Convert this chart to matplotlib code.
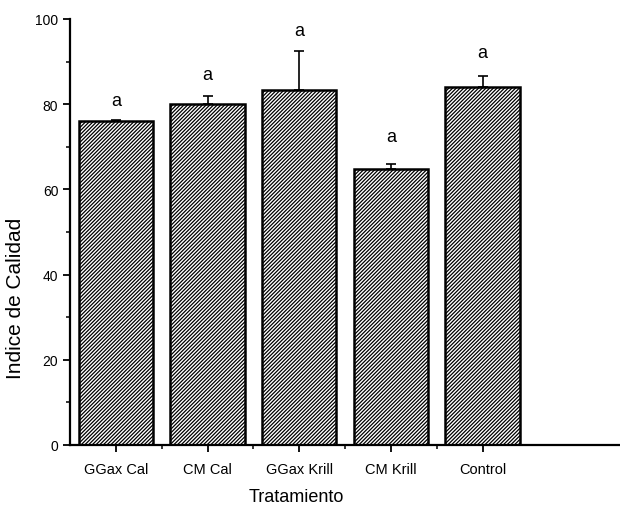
import matplotlib
matplotlib.use("Agg")
import matplotlib.pyplot as plt
from matplotlib.ticker import MultipleLocator, FixedLocator

plt.rcParams['font.family'] = ['Liberation Sans', 'DejaVu Sans']
plt.rcParams['hatch.linewidth'] = 0.9

categories = ["GGax Cal", "CM Cal", "GGax Krill", "CM Krill", "Control"]
values = [76.0, 80.0, 83.3, 64.8, 84.0]
errors = [0.3, 2.0, 9.2, 1.2, 2.7]
letters = ["a", "a", "a", "a", "a"]
letter_y = [80.8, 86.9, 97.2, 72.3, 92.2]

fig = plt.figure(figsize=(6.2, 5.1), dpi=100)
ax = fig.add_axes([0.113, 0.1255, 0.887, 0.8355])

x = list(range(len(categories)))
ax.bar(x, values, width=0.81, color='white', edgecolor='black', hatch='/////////',
       linewidth=1.8, zorder=2)
ax.errorbar(x, values, yerr=[[0]*len(errors), errors], fmt='none', ecolor='black',
            elinewidth=1.2, capsize=3.5, capthick=1.2, zorder=3)
for xi, ly, t in zip(x, letter_y, letters):
    ax.text(xi, ly, t, ha='center', va='center', fontsize=13)

ax.set_xlim(-0.5, 5.5)
ax.set_ylim(0, 100)
ax.set_xticks(x)
ax.set_xticklabels(categories, fontsize=10.5)
ax.xaxis.set_minor_locator(FixedLocator([0.5, 1.5, 2.5, 3.5]))
ax.yaxis.set_major_locator(MultipleLocator(20))
ax.yaxis.set_minor_locator(MultipleLocator(10))
ax.tick_params(axis='y', which='major', direction='out', length=5, width=1.3, labelsize=10)
ax.tick_params(axis='y', which='minor', direction='out', length=3, width=1.1)
ax.tick_params(axis='x', which='major', direction='out', length=5, width=1.3, pad=7)
ax.tick_params(axis='x', which='minor', direction='out', length=3, width=1.1)
for s in ['top', 'right']:
    ax.spines[s].set_visible(False)
for s in ['left', 'bottom']:
    ax.spines[s].set_linewidth(1.6)

ax.set_ylabel("Indice de Calidad", fontsize=15)
ax.yaxis.set_label_coords(-0.082, 0.347)
ax.set_xlabel("Tratamiento", fontsize=13)
ax.xaxis.set_label_coords(0.411, -0.1)

fig.savefig("out.png", dpi=100)
